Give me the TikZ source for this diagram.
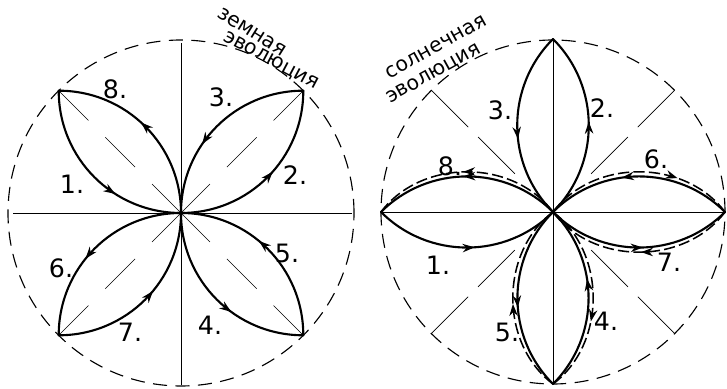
\documentclass[tikz,border=0pt]{standalone}
\usepackage{fontspec}
\setmainfont{DejaVu Sans}
\usetikzlibrary{arrows.meta,decorations.markings}

\begin{document}
\begin{tikzpicture}[x=0.25mm,y=0.25mm]
\tikzset{
  orbit/.style={draw=black,line width=0.8pt,dash pattern=on 10pt off 6pt},
  axisline/.style={draw=black,line width=0.55pt},
  diagline/.style={draw=black,line width=0.45pt,dash pattern=on 1.05cm off 0.6cm},
  sectorline/.style={draw=black,line width=0.5pt,dash pattern=on 1.3cm off 0.35cm},
  petal/.style={draw=black,line width=1.5pt,line cap=round,line join=round},
  petalback/.style={draw=black,line width=1.1pt,dash pattern=on 8pt off 3pt},
  arrowat/.style={postaction={decorate,decoration={markings,mark=at position #1 with {\arrow{Stealth[length=3mm,width=2.1mm]}}}}},
  numlabel/.style={font=\fontsize{18}{18}\selectfont,inner sep=0pt},
  evolabel/.style={font=\fontsize{14.5}{15}\selectfont,inner sep=0pt}
}
\useasboundingbox (0,0) rectangle (727,389);
\coordinate (l_O) at (181,176);
\coordinate (l_TL) at (58.7,298.3);
\coordinate (l_TR) at (303.3,298.3);
\coordinate (l_BL) at (58.7,53.7);
\coordinate (l_BR) at (303.3,53.7);
\coordinate (l_N) at (181,346);
\coordinate (l_S) at (181,4);
\coordinate (l_W) at (13,176);
\coordinate (l_E) at (352,176);
\draw[orbit] (l_O) circle[radius=173];
\draw[axisline] (l_N) -- (l_S);
\draw[axisline] (l_W) -- (l_E);
\draw[diagline] (l_TL) -- (l_O);
\draw[diagline] (l_TR) -- (l_O);
\draw[diagline] (l_BL) -- (l_O);
\draw[diagline] (l_BR) -- (l_O);
\draw[petal,arrowat=0.64] (l_TL) to[bend right=45] (l_O);
\draw[petal,arrowat=0.54] (l_O) to[bend right=45] (l_TR);
\draw[petal,arrowat=0.62] (l_TR) to[bend right=45] (l_O);
\draw[petal,arrowat=0.6] (l_O) to[bend right=45] (l_BR);
\draw[petal,arrowat=0.56] (l_BR) to[bend right=45] (l_O);
\draw[petal,arrowat=0.57] (l_O) to[bend right=45] (l_BL);
\draw[petal,arrowat=0.56] (l_BL) to[bend right=45] (l_O);
\draw[petal,arrowat=0.53] (l_O) to[bend right=45] (l_TL);
\node[numlabel] (l_n1) at (72,205) {1.};
\node[numlabel] (l_n2) at (295,214) {2.};
\node[numlabel] (l_n3) at (221,292) {3.};
\node[numlabel] (l_n4) at (210,64) {4.};
\node[numlabel] (l_n5) at (287,136) {5.};
\node[numlabel] (l_n6) at (61,121) {6.};
\node[numlabel] (l_n7) at (130,57) {7.};
\node[numlabel] (l_n8) at (115,300) {8.};
\node[evolabel,rotate=-32] (l_title1) at (252,357) {земная};
\node[evolabel,rotate=-28] (l_title2) at (271,328) {эволюция};
\coordinate (r_O) at (553,177);
\coordinate (r_N) at (553,350);
\coordinate (r_S) at (553,5);
\coordinate (r_W) at (381,177);
\coordinate (r_E) at (725,177);
\coordinate (r_NWo) at (431.4,298.6);
\coordinate (r_NWi) at (516.2,213.8);
\coordinate (r_NEo) at (674.6,298.6);
\coordinate (r_NEi) at (589.8,213.8);
\coordinate (r_SWo) at (431.4,55.4);
\coordinate (r_SWi) at (516.2,140.2);
\coordinate (r_SEo) at (674.6,55.4);
\coordinate (r_SEi) at (589.8,140.2);
\draw[orbit] (r_O) circle[radius=172];
\draw[axisline] (r_N) -- (r_S);
\draw[axisline] (r_W) -- (r_E);
\draw[sectorline] (r_NWo) -- (r_NWi);
\draw[sectorline] (r_NEo) -- (r_NEi);
\draw[sectorline] (r_SWo) -- (r_SWi);
\draw[sectorline] (r_SEo) -- (r_SEi);
\draw[petal,arrowat=0.54] (r_W) to[bend right=45] (r_O);
\draw[petal,arrowat=0.52] (r_O) to[bend right=45] (r_N);
\draw[petal,arrowat=0.57] (r_N) to[bend right=45] (r_O);
\draw[petal,arrowat=0.6] (r_S) to[bend right=45] (r_O);
\draw[petal,arrowat=0.55] (r_O) to[bend right=45] (r_S);
\draw[petal,arrowat=0.59] (r_E) to[bend right=45] (r_O);
\draw[petal,arrowat=0.52] (r_O) to[bend right=45] (r_E);
\draw[petal,arrowat=0.52] (r_O) to[bend right=45] (r_W);
\draw[petalback,arrowat=0.62] (r_O) to[bend left=53] (r_S);
\draw[petalback,arrowat=0.47] (r_S) to[bend left=53] (r_O);
\draw[petalback,arrowat=0.7] (r_O) to[bend left=53] (r_E);
\draw[petalback,arrowat=0.49] (r_E) to[bend left=53] (r_O);
\draw[petalback,arrowat=0.52] (r_O) to[bend right=53] (r_W);
\node[numlabel] (r_n1) at (438,124) {1.};
\node[numlabel] (r_n2) at (602,281) {2.};
\node[numlabel] (r_n3) at (500,279) {3.};
\node[numlabel] (r_n4) at (606,68) {4.};
\node[numlabel] (r_n5) at (507,57) {5.};
\node[numlabel] (r_n6) at (656,230) {6.};
\node[numlabel] (r_n7) at (669,127) {7.};
\node[numlabel] (r_n8) at (450,223) {8.};
\node[evolabel,rotate=29] (r_title1) at (436,342) {солнечная};
\node[evolabel,rotate=29] (r_title2) at (434,315) {эволюция};
\end{tikzpicture}
\end{document}
